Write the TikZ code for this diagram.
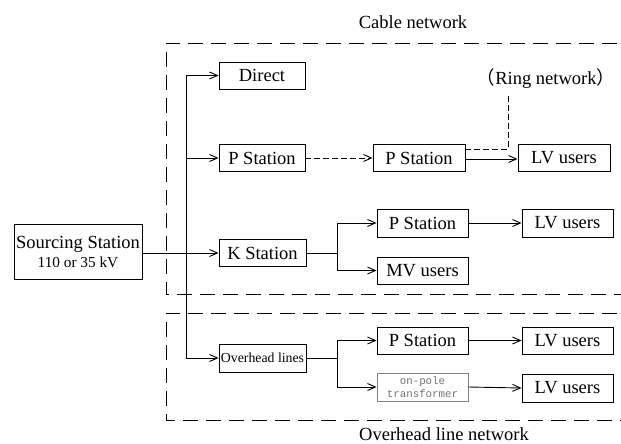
\documentclass[tikz,border=0pt]{standalone}
\usepackage{fontspec}
\setmainfont{Liberation Serif}
\setmonofont{Liberation Mono}
\newfontfamily\cjk{Noto Sans CJK SC}
\usetikzlibrary{arrows.meta}
\begin{document}
\begin{tikzpicture}[x=1pt, y=-1pt,
  box/.style={draw, line width=0.9pt, inner sep=0pt, align=center,
    font=\fontsize{18.5}{20}\selectfont},
  smallbox/.style={box, font=\fontsize{13.8}{15}\selectfont},
  polebox/.style={box, draw=gray, text=gray!90!black,
    font=\ttfamily\fontsize{10.8}{12.3}\selectfont},
  arr/.style={line width=0.9pt, -{Straight Barb[length=8pt, width=7pt]}},
  wire/.style={line width=0.9pt},
  region/.style={line width=0.9pt, dash pattern=on 15pt off 8pt},
  ring/.style={line width=0.9pt, dash pattern=on 6pt off 3pt},
  caption/.style={font=\fontsize{18.5}{20}\selectfont, inner sep=0pt}]
\useasboundingbox (0,0) rectangle (621,444);
\clip (0,0) rectangle (621,444);

% network regions
\draw[region] (640,43) -- (166,43) -- (166,294) -- (640,294);
\draw[region] (640,313) -- (166,313) -- (166,420) -- (640,420);
\node[caption] (cablecap) at (413,22) {Cable network};
\node[caption] (ohcap) at (444,434) {Overhead line network};

% source
\node[box, minimum width=128pt, minimum height=55pt] (src) at (78,251.5)
  {Sourcing Station\\[-1pt]{\fontsize{15.3}{17}\selectfont 110 or 35 kV}};

% first level
\node[box, minimum width=86pt, minimum height=27pt] (direct) at (262,75.5) {Direct};
\node[box, minimum width=86pt, minimum height=27pt] (p1) at (262,158) {P Station};
\node[box, minimum width=87pt, minimum height=27pt] (k) at (262.5,253) {K Station};
\node[smallbox, minimum width=87pt, minimum height=28pt] (ohl) at (262.5,358) {Overhead lines};

% cable branch
\node[box, minimum width=92pt, minimum height=27pt] (p2) at (419,158) {P Station};
\node[box, minimum width=92pt, minimum height=27pt] (lv1) at (564,158) {LV users};
\node[caption] (ringcap) at (546,79) {{\cjk （}Ring network{\cjk ）}};
\node[box, minimum width=91pt, minimum height=28pt] (p3) at (422.5,223) {P Station};
\node[box, minimum width=91pt, minimum height=27pt] (mv) at (422.5,270.5) {MV users};
\node[box, minimum width=91pt, minimum height=28pt] (lv2) at (567.5,223) {LV users};

% overhead branch
\node[box, minimum width=91pt, minimum height=27pt] (p4) at (422.5,340.5) {P Station};
\node[polebox, minimum width=91pt, minimum height=28pt] (pole) at (422.5,387) {on-pole\\transformer};
\node[box, minimum width=91pt, minimum height=27pt] (lv3) at (567.5,340.5) {LV users};
\node[box, minimum width=91pt, minimum height=28pt] (lv4) at (567.5,388) {LV users};

% trunk feeding the first level
\coordinate (trunktop) at (186,75.5);
\coordinate (trunkbot) at (186,358);
\draw[wire] (trunktop) -- (trunkbot);
\draw[arr] (trunktop) -- (direct.west);
\draw[arr] (trunktop |- p1.west) -- (p1.west);
\draw[arr] (trunkbot) -- (ohl.west);
\draw[arr] (src.east |- k.west) -- (k.west);

% cable connections
\draw[arr, dash pattern=on 6pt off 3pt] (p1.east) -- (p2.west);
\draw[arr] ([yshift=-1pt]p2.east) -- ([yshift=-1pt]lv1.west);
\coordinate (ringtap) at (508,93);
\draw[ring] ([yshift=9pt]p2.east) -| (ringtap);
\draw[arr] (k.east) -- ++(31,0) |- (p3.west);
\draw[arr] (k.east) -- ++(31,0) |- (mv.west);
\draw[arr] (p3.east) -- (lv2.west);

% overhead connections
\draw[arr] (ohl.east) -- ++(31,0) |- (p4.west);
\draw[arr] (ohl.east) -- ++(31,0) |- (pole.west);
\draw[arr] (p4.east) -- (lv3.west);
\draw[arr] (pole.east) -- (lv4.west);
\end{tikzpicture}
\end{document}
